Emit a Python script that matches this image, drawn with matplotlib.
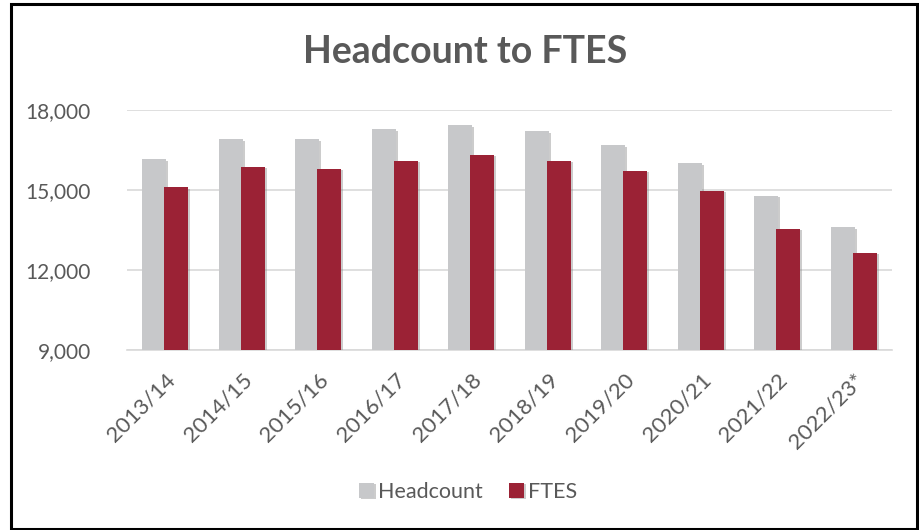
import matplotlib
matplotlib.use("Agg")
import matplotlib.pyplot as plt
import matplotlib.patheffects as pe
from matplotlib.patches import Rectangle
from matplotlib.ticker import FuncFormatter, MultipleLocator
import numpy as np

categories = ["2013/14", "2014/15", "2015/16", "2016/17", "2017/18",
              "2018/19", "2019/20", "2020/21", "2021/22", "2022/23*"]
headcount = [16150, 16900, 16900, 17275, 17425, 17200, 16675, 16000, 14790, 13600]
ftes = [15100, 15860, 15790, 16090, 16310, 16090, 15710, 14960, 13540, 12650]

FONT = ["Lato", "DejaVu Sans"]
plt.rcParams['font.family'] = FONT
TXT = "#595959"
GRAY = "#C7C8CA"
RED = "#9B2235"

fig = plt.figure(figsize=(9.2, 5.3), dpi=100)
ax = fig.add_axes([127/920, 1-350/530, (892-127)/920, (350-110)/530])

x = np.arange(len(categories))
w = 0.31
off = 0.145
shadow = [pe.SimplePatchShadow(offset=(1.5, -1), shadow_rgbFace="#808080", alpha=0.4), pe.Normal()]
b1 = ax.bar(x - off, headcount, w, color=GRAY, label="Headcount", zorder=3)
b2 = ax.bar(x + off, ftes, w, color=RED, label="FTES", zorder=4)
for b in list(b1) + list(b2):
    b.set_path_effects(shadow)

ax.set_ylim(9000, 18000)
ax.set_xlim(-0.5, len(categories) - 0.5)
ax.yaxis.set_major_locator(MultipleLocator(3000))
ax.yaxis.set_major_formatter(FuncFormatter(lambda v, p: f"{int(v):,}"))
ax.grid(axis="y", color="#D9D9D9", linewidth=1.2, zorder=0)
ax.set_axisbelow(True)
for s in ["top", "right", "left"]:
    ax.spines[s].set_visible(False)
ax.spines["bottom"].set_color("#D9D9D9")
ax.spines["bottom"].set_linewidth(1.2)
ax.tick_params(axis="y", length=0, pad=26, labelsize=15, labelcolor=TXT)
ax.tick_params(axis="x", length=0, pad=14, labelsize=16, labelcolor=TXT)
ax.set_xticks(x)
ax.set_xticklabels(categories, rotation=45, ha="right", rotation_mode="anchor")

fig.text(0.506, 1-52/530, "Headcount to FTES", ha="center", va="center",
         fontsize=27, fontweight="bold", color=TXT)

leg = fig.legend(handles=[b1, b2], labels=["Headcount", "FTES"], loc="center",
                 bbox_to_anchor=(468/920, 1-492/530), ncol=2, frameon=False,
                 fontsize=15.5, labelcolor=TXT, handlelength=0.7, handleheight=0.7,
                 handletextpad=0.2, columnspacing=1.2)

fig.patches.append(Rectangle((11/920, 1-529/530), (917-11)/920, (529-4)/530,
                             transform=fig.transFigure, fill=False,
                             edgecolor="#000000", linewidth=2.2))

fig.savefig("out.png", dpi=100)
